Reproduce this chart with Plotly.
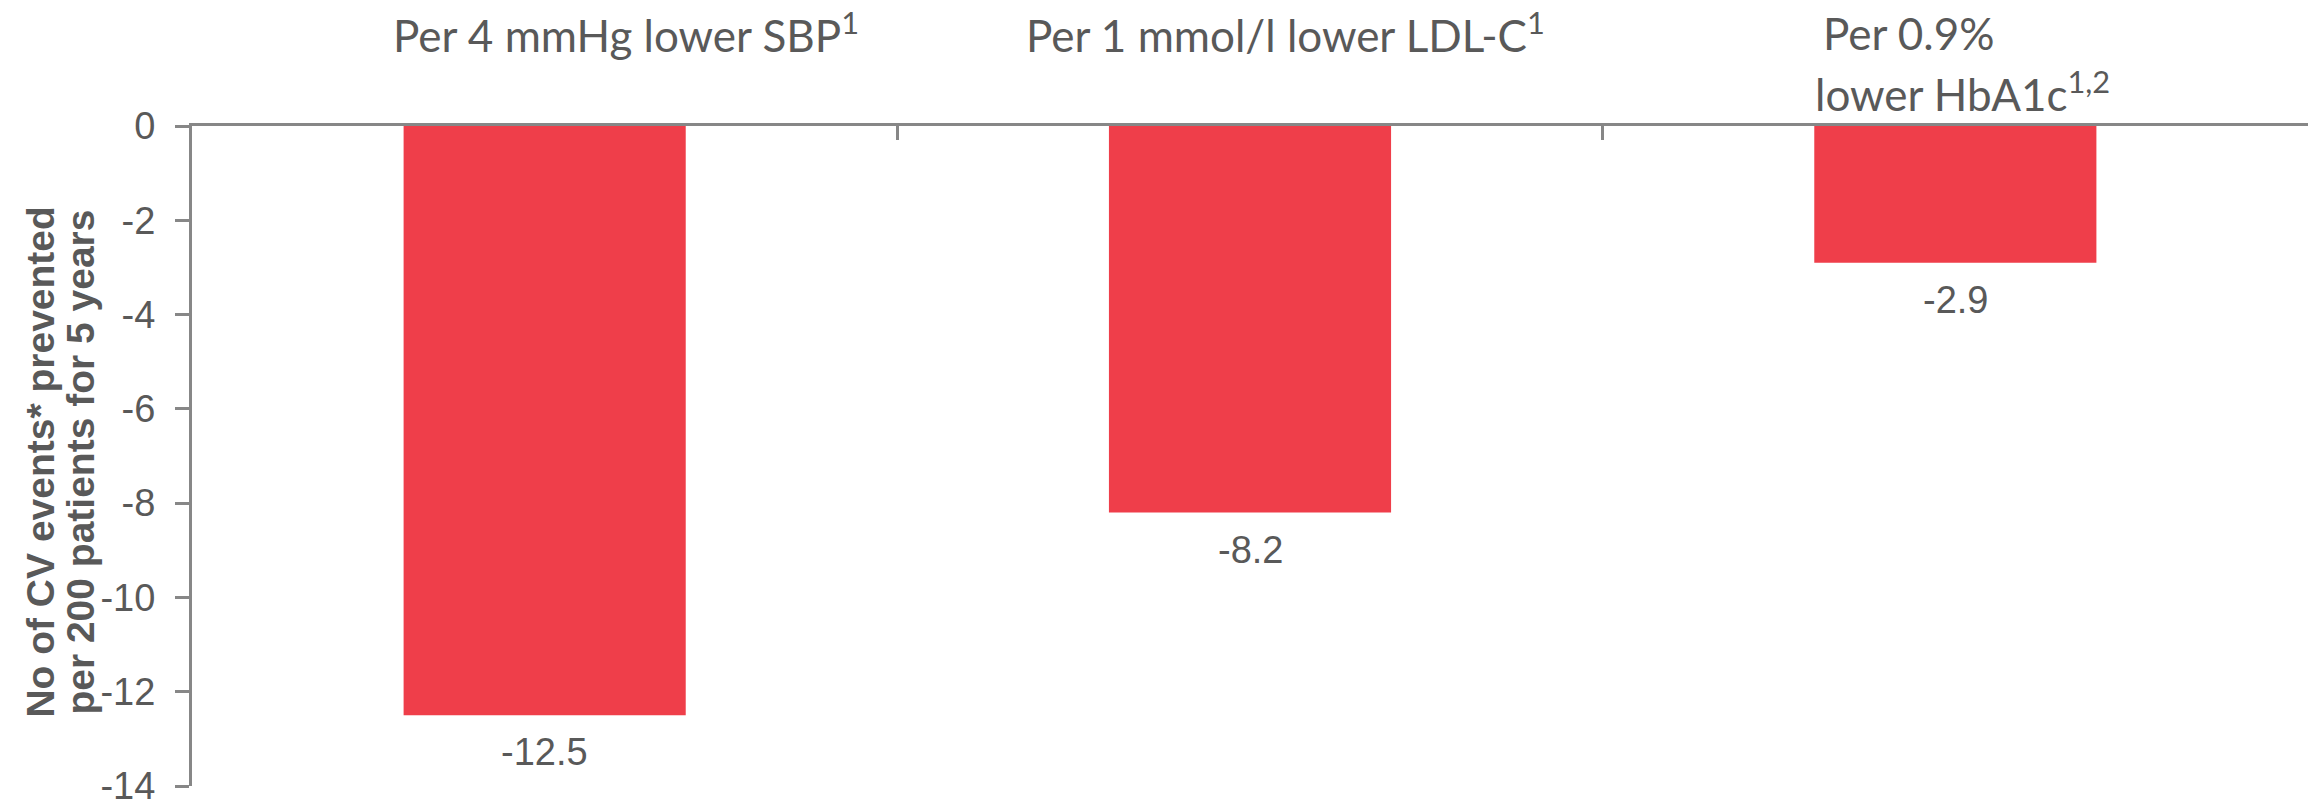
import plotly.graph_objects as go

categories = ["SBP", "LDL-C", "HbA1c"]
values = [-12.5, -8.2, -2.9]
value_labels = ["-12.5", "-8.2", "-2.9"]
y_ticks = [0, -2, -4, -6, -8, -10, -12, -14]
header_lines = [
    ("Per 4 mmHg lower SBP<sup>1</sup>", 0.115, 1.141),
    ("Per 1 mmol/l lower LDL-C<sup>1</sup>", 1.05, 1.141),
    ("Per 0.9%", 1.934, 1.141),
    ("lower HbA1c<sup>1,2</sup>", 2.01, 1.052),
]
y_title_lines = ["No of CV events* prevented", "per 200 patients for 5 years"]

GRAY = "#595959"
AXIS = "#878787"
BAR = "#EF3E4A"

fig = go.Figure()
fig.add_trace(go.Bar(
    x=categories, y=values, marker=dict(color=BAR, line=dict(width=0)),
    width=0.4, hoverinfo="skip",
))

ann = []
for c, v, t in zip(categories, values, value_labels):
    ann.append(dict(x=c, y=v, xref="x", yref="y", text=t, showarrow=False,
                    yanchor="top", yshift=-14,
                    font=dict(family="Liberation Sans, Arial", size=38, color=GRAY)))
for t, x, y in header_lines:
    ann.append(dict(x=(x + 0.5) / 3, y=y, xref="paper", yref="paper", text=t, showarrow=False,
                    xanchor="center", yanchor="middle",
                    font=dict(family="Lato, Carlito, Calibri", size=44, color=GRAY)))
for t, xs in zip(y_title_lines, [-151, -111]):
    ann.append(dict(x=0, y=0.49, xref="paper", yref="paper", text="<b>" + t + "</b>",
                    showarrow=False, textangle=-90, xanchor="center", yanchor="middle",
                    xshift=xs,
                    font=dict(family="Liberation Sans, Arial", size=39, color=GRAY)))

fig.update_layout(
    width=2320, height=803,
    margin=dict(l=192, r=12, t=126, b=17),
    plot_bgcolor="white", paper_bgcolor="white",
    showlegend=False,
    annotations=ann,
    xaxis=dict(
        type="category", side="top", showline=True, linecolor=AXIS, linewidth=3,
        tickson="boundaries", automargin=False,
        ticks="inside", ticklen=14, tickwidth=3, tickcolor=AXIS,
        showticklabels=False, showgrid=False, zeroline=False,
    ),
    yaxis=dict(
        range=[-14, 0], tickmode="array", tickvals=y_ticks,
        ticktext=[str(t) for t in y_ticks], automargin=False,
        showline=True, linecolor=AXIS, linewidth=3,
        ticks="outside", ticklen=14, tickwidth=3, tickcolor=AXIS,
        ticklabelstandoff=12, ticklabeloverflow="allow",
        tickfont=dict(family="Liberation Sans, Arial", size=38, color=GRAY),
        showgrid=False, zeroline=False,
    ),
)

fig.write_html("out.html")
